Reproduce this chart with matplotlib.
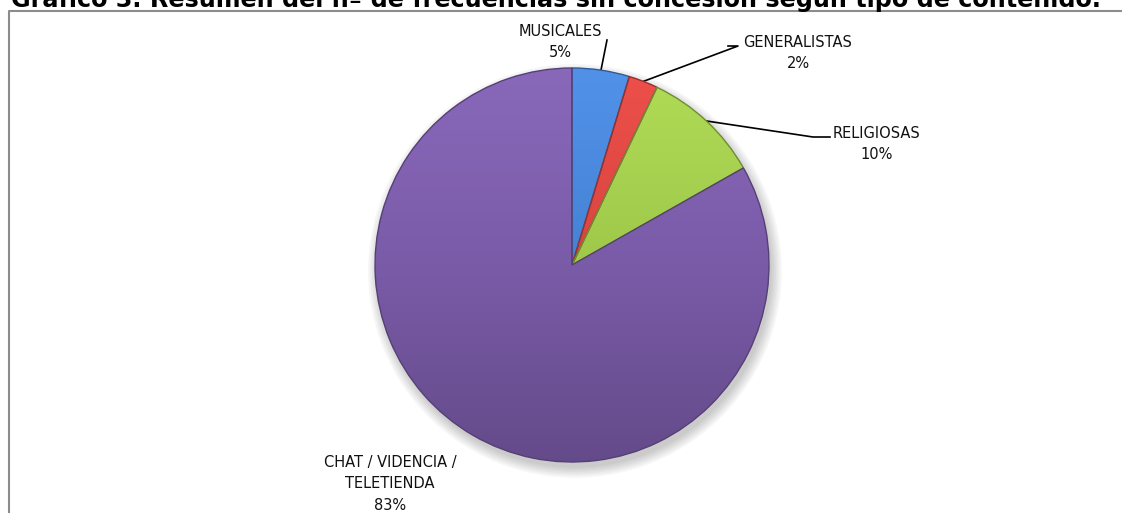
import numpy as np
import matplotlib
matplotlib.use("Agg")
import matplotlib.pyplot as plt
from matplotlib.colors import to_rgb, LinearSegmentedColormap
from matplotlib.patches import Ellipse

plt.rcParams['font.family'] = ['Liberation Sans Narrow', 'DejaVu Sans']

# data
categories = ['MUSICALES', 'GENERALISTAS', 'RELIGIOSAS', 'CHAT / VIDENCIA /\nTELETIENDA']
shares = [4.7, 2.4, 9.7, 83.2]
colors = ['#4582d4', '#d9443f', '#9fc84a', '#7a5ba8']
title = 'Gráfico 3. Resumen del nº de frecuencias sin concesión según tipo de contenido.'

# label anchor (centre of first line, pixels from top-left) and leader start
label_pos = [(560, 31), (798, 42), (877, 133), (390, 462)]
leader_start = [[(607, 40)], [(728, 46), (738, 46)], [(830, 137), (813, 137)], None]

W, H = 1122, 513
fig = plt.figure(figsize=(W / 100, H / 100), dpi=100)

# overlay in pixel coords
ov = fig.add_axes([0, 0, 1, 1])
ov.set_xlim(0, W)
ov.set_ylim(H, 0)
ov.axis('off')

# chart frame (open to the right / bottom, as cropped)
ov.plot([9, 9, W + 5], [H + 5, 11, 11], color='#8c8c8c', lw=1.5, zorder=1)

cx, cy, r = 572, 265, 197
ax = fig.add_axes([(cx - r) / W, (H - cy - r) / H, 2 * r / W, 2 * r / H])

# soft drop shadow
for k in range(6):
    ax.add_patch(Ellipse((0.015, -0.03), 2.0 + 0.02 * k, 2.0 + 0.02 * k,
                         color='black', alpha=0.035, lw=0, zorder=0, clip_on=False))

wedges, _ = ax.pie(shares, colors=colors, startangle=90, counterclock=False,
                   radius=1, wedgeprops=dict(linewidth=0))

grad = np.linspace(0, 1, 256).reshape(-1, 1)
for w, c in zip(wedges, colors):
    base = np.array(to_rgb(c))
    light = np.clip(base * 1.06 + 0.03, 0, 1)
    dark = base * 0.82
    cmap = LinearSegmentedColormap.from_list('g', [dark, base, light])
    im = ax.imshow(grad, extent=(-1, 1, -1, 1), origin='lower', cmap=cmap,
                   aspect='auto', zorder=2)
    im.set_clip_path(w)
    w.set_facecolor('none')
    w.set_edgecolor(tuple(base * 0.7))
    w.set_linewidth(1.0)
    w.set_zorder(3)

ax.set_xlim(-1, 1)
ax.set_ylim(-1, 1)
ax.set_aspect('auto')
ax.axis('off')

# labels and leader lines
to_ov = ov.transData.inverted()
for w, name, val, (lx, ly), ls in zip(wedges, categories, shares, label_pos, leader_start):
    label = f'{name}\n{val:.0f}%'
    n = label.count('\n') + 1
    ov.text(lx, ly + (n - 1) * 22 / 2, label, ha='center', va='center',
            fontsize=10.5, linespacing=1.55, color='#111111', zorder=5)
    if ls is None:
        continue
    mid = np.deg2rad((w.theta1 + w.theta2) / 2)
    edge = ax.transData.transform((np.cos(mid), np.sin(mid)))
    ex, ey = to_ov.transform(edge)
    xs = [p[0] for p in ls] + [ex]
    ys = [p[1] for p in ls] + [ey]
    ov.plot(xs, ys, color='black', lw=1.2, zorder=5)

# title, cropped at the top of the picture as in the source
tt = ov.text(11, 7, title, ha='left', va='baseline', fontsize=20,
             fontweight='bold', color='black', zorder=6)
fig.canvas.draw()
bb = tt.get_window_extent()
tt.set_fontsize(20 * 1090 / bb.width)

fig.savefig('out.png', dpi=100)
